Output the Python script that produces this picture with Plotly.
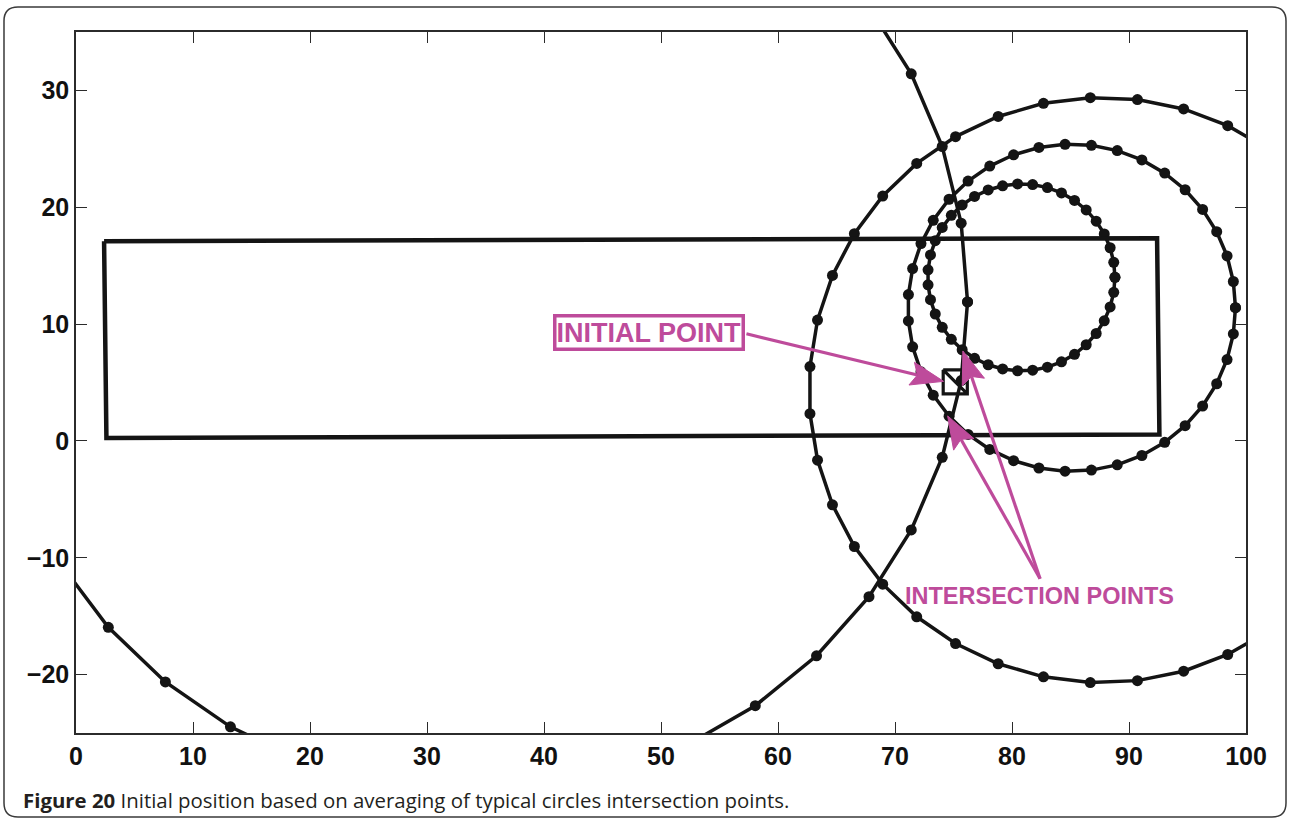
import numpy as np
import plotly.graph_objects as go

# Range circles: centre x, centre y, radius (axis units)
circle_cx = [80.8, 85.1, 87.7, 34.2]
circle_cy = [14.0, 11.4, 4.35, 11.9]
circle_r = [8.0, 14.0, 25.05, 42.0]
samples_per_circle = 40

# Area boundary (slightly skewed rectangle)
area_x = [2.4, 92.4, 92.6, 2.6, 2.4]
area_y = [17.1, 17.35, 0.55, 0.25, 17.1]

# Averaged initial position
initial_x = 75.15
initial_y = 5.05

x_ticks = [0, 10, 20, 30, 40, 50, 60, 70, 80, 90, 100]
y_ticks = [-20, -10, 0, 10, 20, 30]
y_tick_text = ["\u221220", "\u221210", "0", "10", "20", "30"]

INK = "#141414"
MAGENTA = "#BE4B9B"

fig = go.Figure()

# circles drawn as sampled polygons with a dot at each sample
theta = np.linspace(0, 2 * np.pi, samples_per_circle)
for cx, cy, r in zip(circle_cx, circle_cy, circle_r):
    fig.add_trace(go.Scatter(
        x=cx + r * np.cos(theta), y=cy + r * np.sin(theta),
        mode="lines+markers",
        line=dict(color=INK, width=3.5),
        marker=dict(color=INK, size=11),
        hoverinfo="skip", showlegend=False,
    ))

fig.add_trace(go.Scatter(
    x=area_x, y=area_y, mode="lines",
    line=dict(color=INK, width=4.5),
    hoverinfo="skip", showlegend=False,
))

# square marker with one diagonal
h = 1.03
sq_x = [initial_x - h, initial_x + h, initial_x + h, initial_x - h, initial_x - h, initial_x + h]
sq_y = [initial_y + h, initial_y + h, initial_y - h, initial_y - h, initial_y + h, initial_y - h]
fig.add_trace(go.Scatter(
    x=sq_x, y=sq_y, mode="lines",
    line=dict(color=INK, width=3.2),
    hoverinfo="skip", showlegend=False,
))

# magenta arrows: (tail, tip) in axis units
arrows = [
    ((57.3, 9.17), (74.15, 5.1)),
    ((82.4, -11.8), (74.5, 2.14)),
    ((82.4, -11.8), (75.8, 7.7)),
]
head_len = 2.8
head_half = 1.0
notch = 0.5
shapes = []
for (tx, ty), (px, py) in arrows:
    dx, dy = px - tx, py - ty
    L = np.hypot(dx, dy)
    ux, uy = dx / L, dy / L
    nx, ny = -uy, ux
    bx, by = px - ux * head_len, py - uy * head_len
    kx, ky = px - ux * (head_len - notch), py - uy * (head_len - notch)
    shapes.append(dict(type="line", xref="x", yref="y",
                       x0=tx, y0=ty, x1=kx, y1=ky,
                       line=dict(color=MAGENTA, width=3.2)))
    path = (f"M{px},{py} L{bx + nx * head_half},{by + ny * head_half} "
            f"L{kx},{ky} L{bx - nx * head_half},{by - ny * head_half} Z")
    shapes.append(dict(type="path", xref="x", yref="y", path=path,
                       fillcolor=MAGENTA, line=dict(color=MAGENTA, width=1)))

# rounded outer frame in paper units
L_px, T_px, W_px, H_px = 76, 32, 1170, 701


def px2paper(x, y):
    return (x - L_px) / W_px, (T_px + H_px - y) / H_px


def P(x, y):
    a, b = px2paper(x, y)
    return f"{a:.5f},{b:.5f}"


left, right, top, bottom, rad = 4, 1286, 7, 817, 14
frame_path = (
    f"M{P(left + rad, top)} L{P(right - rad, top)} Q{P(right, top)} {P(right, top + rad)} "
    f"L{P(right, bottom - rad)} Q{P(right, bottom)} {P(right - rad, bottom)} "
    f"L{P(left + rad, bottom)} Q{P(left, bottom)} {P(left, bottom - rad)} "
    f"L{P(left, top + rad)} Q{P(left, top)} {P(left + rad, top)} Z"
)
shapes.append(dict(type="path", xref="paper", yref="paper", path=frame_path,
                   line=dict(color="#3a3a3a", width=1.5), layer="above"))

cap_x, cap_y = px2paper(21, 800)
annotations = [
    dict(x=48.95, y=9.3, xref="x", yref="y", text="<b>INITIAL POINT</b>", showarrow=False,
         font=dict(family="Liberation Sans, Arial, sans-serif", size=27, color=MAGENTA),
         bordercolor=MAGENTA, borderwidth=3.5, borderpad=0, bgcolor="white"),
    dict(x=82.35, y=-13.3, xref="x", yref="y", text="<b>INTERSECTION POINTS</b>", showarrow=False,
         font=dict(family="Liberation Sans, Arial, sans-serif", size=23.5, color=MAGENTA)),
    dict(x=cap_x, y=cap_y, xref="paper", yref="paper", xanchor="left", yanchor="middle",
         text="<b>Figure 20</b> Initial position based on averaging of typical circles intersection points.",
         showarrow=False,
         font=dict(family="Open Sans, sans-serif", size=20.4, color="#231f20")),
]

axis_common = dict(
    showline=True, linecolor="#2b2b2b", linewidth=1.5, mirror="ticks",
    ticks="inside", ticklen=11, tickwidth=1.2, tickcolor="#2b2b2b",
    showgrid=False, zeroline=False,
    tickfont=dict(family="Liberation Sans, Arial, sans-serif", size=25, color="#111111",
                  weight="bold"),
)

fig.update_layout(
    width=1290, height=820,
    margin=dict(l=L_px, r=1290 - L_px - W_px, t=T_px, b=820 - T_px - H_px),
    paper_bgcolor="white", plot_bgcolor="white",
    xaxis=dict(range=[0, 100], tickvals=x_ticks, ticktext=[str(v) for v in x_ticks], **axis_common),
    yaxis=dict(range=[-25, 35], tickvals=y_ticks, ticktext=y_tick_text, **axis_common),
    shapes=shapes, annotations=annotations, showlegend=False,
)

fig.write_html("out.html")
